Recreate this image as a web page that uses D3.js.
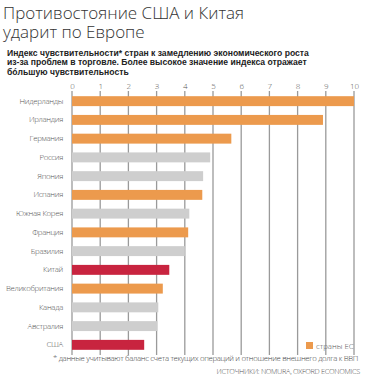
<!DOCTYPE html>
<html><head><meta charset="utf-8">
<script src="https://cdn.jsdelivr.net/npm/d3@7"></script>
<style>
body{margin:0;background:#fff;}
svg{display:block;}
</style></head>
<body><svg id="c" width="369" height="380"></svg>
<script>
const countries = ["Нидерланды","Ирландия","Германия","Россия","Япония","Испания","Южная Корея","Франция","Бразилия","Китай","Великобритания","Канада","Австралия","США"];
const values = [10, 8.9, 5.65, 4.9, 4.65, 4.62, 4.16, 4.12, 4.0, 3.45, 3.22, 3.06, 3.03, 2.56];
const groups = ["eu","eu","eu","other","other","eu","other","eu","other","focus","eu","other","other","focus"];
const ticks = [0,1,2,3,4,5,6,7,8,9,10];
const colors = {eu:"#EC9A4D", other:"#CECECE", focus:"#C8243F"};
const titleLines = ["Противостояние США и Китая","ударит по Европе"];
const subtitleLines = ["Индекс чувствительности* стран к замедлению экономического роста","из-за проблем в торговле. Более высокое значение индекса отражает","бóльшую чувствительность"];
const legendLabel = "страны ЕС";
const footnote = "* данные учитывают баланс счета текущих операций и отношение внешнего долга к ВВП";
const source = "ИСТОЧНИКИ: NOMURA, OXFORD ECONOMICS";

const svg = d3.select("#c");
const x = d3.scaleLinear().domain([0,10]).range([72,354]);
const y = d3.scaleBand().domain(countries).range([91.5,354.5]).paddingInner(0.47).paddingOuter(0.25);

svg.selectAll("text.title").data(titleLines).join("text")
  .attr("x",3).attr("y",(d,i)=>19+i*18.5)
  .attr("font-family","Open Sans").attr("font-weight",300).attr("font-size",17)
  .attr("fill","#333").text(d=>d);

svg.selectAll("text.sub").data(subtitleLines).join("text")
  .attr("x",7).attr("y",(d,i)=>55.5+i*9.5)
  .attr("font-family","Liberation Sans").attr("font-weight","bold").attr("font-size",8.6)
  .attr("fill","#222").text(d=>d);

// grid
const g = svg.append("g");
g.selectAll("line.grid").data(ticks).join("line")
  .attr("x1",d=>x(d)).attr("x2",d=>x(d)).attr("y1",91).attr("y2",355)
  .attr("stroke","#9a9a9a").attr("stroke-width",1.3);

const axis = d3.axisTop(x).tickValues(ticks).tickSize(0).tickPadding(0);
const ag = svg.append("g").attr("transform","translate(0,89)").call(axis);
ag.select(".domain").remove();
ag.selectAll("text").attr("font-family","Open Sans").attr("font-size",8).attr("fill","#555").attr("font-weight",300);

// bars
svg.selectAll("rect.bar").data(countries).join("rect")
  .attr("x",x(0)).attr("y",d=>y(d))
  .attr("width",(d,i)=>x(values[i])-x(0)).attr("height",y.bandwidth())
  .attr("fill",(d,i)=>colors[groups[i]]);

// labels
const yl = d3.axisLeft(y).tickSize(0).tickPadding(0);
const lg = svg.append("g").attr("transform","translate(63,0)").call(yl);
lg.select(".domain").remove();
lg.selectAll("text").attr("font-family","Open Sans").attr("font-size",7.8).attr("fill","#555").attr("font-weight",300).attr("letter-spacing",-0.3);

// legend
svg.append("rect").attr("x",306).attr("y",342).attr("width",7).attr("height",7).attr("fill",colors.eu);
svg.append("text").attr("x",316).attr("y",349).attr("font-family","Open Sans").attr("font-weight",300).attr("font-size",7.8).attr("fill","#555").text(legendLabel);

svg.append("text").attr("x",53).attr("y",361).attr("font-family","Open Sans").attr("font-weight",300).attr("font-size",7.8).attr("fill","#444").attr("letter-spacing",-0.33).text(footnote);
svg.append("text").attr("x",360).attr("y",374).attr("text-anchor","end").attr("font-family","Open Sans").attr("font-weight",300).attr("font-size",7.3).attr("fill","#555").attr("letter-spacing",-0.3).text(source);
</script></body></html>
